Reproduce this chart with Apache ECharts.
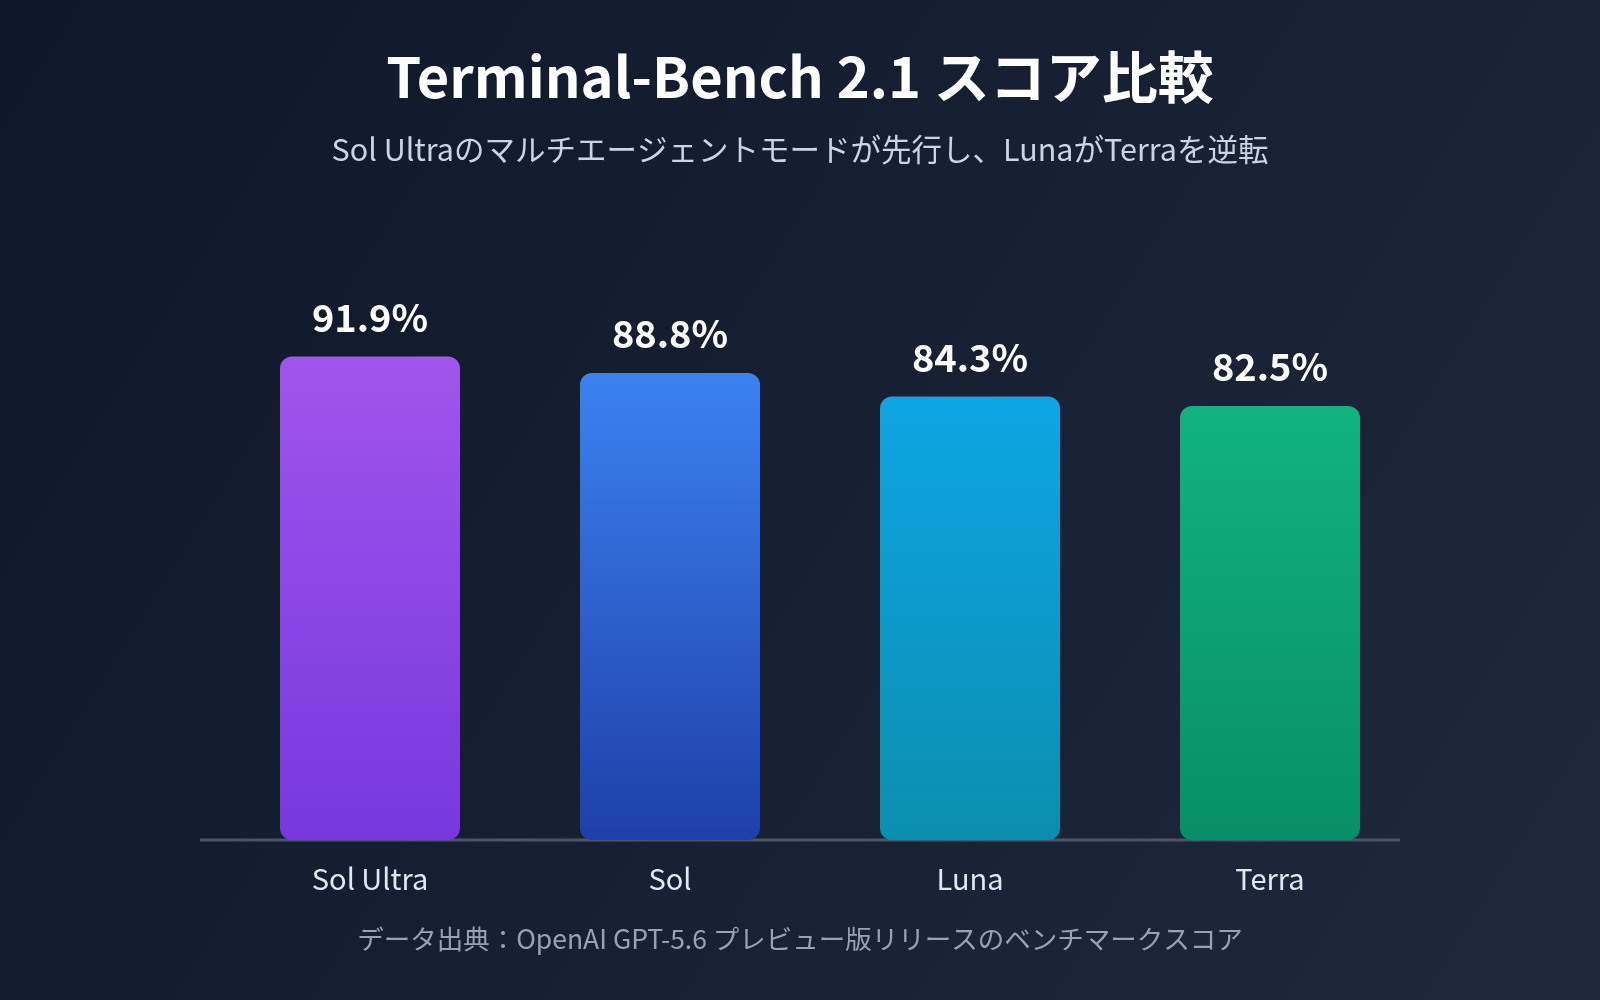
<!DOCTYPE html>
<html>
<head>
<meta charset="utf-8">
<script src="https://cdn.jsdelivr.net/npm/echarts@6/dist/echarts.min.js"></script>
<style>
html,body{margin:0;padding:0;width:1600px;height:1000px;overflow:hidden;background:#0f172a;}
#c{width:1600px;height:1000px;}
</style>
</head>
<body>
<div id="c"></div>
<script>
const titleText = 'Terminal-Bench 2.1 スコア比較';
const subtitleText = 'Sol Ultraのマルチエージェントモードが先行し、LunaがTerraを逆転';
const footerText = 'データ出典：OpenAI GPT-5.6 プレビュー版リリースのベンチマークスコア';
const categories = ['Sol Ultra', 'Sol', 'Luna', 'Terra'];
const scores = [91.9, 88.8, 84.3, 82.5];
const topColors = ['#a155ec', '#3b82f0', '#0ea5e4', '#11b37f'];
const bottomColors = ['#7638de', '#1e3fa8', '#0a8fae', '#078f65'];

const FONT = "'Noto Sans CJK JP', 'Noto Sans', sans-serif";
const chart = echarts.init(document.getElementById('c'), null, {renderer: 'canvas'});

const data = scores.map((v, i) => ({
  value: v,
  itemStyle: {
    color: new echarts.graphic.LinearGradient(0, 0, 0, 1, [
      {offset: 0, color: topColors[i]},
      {offset: 1, color: bottomColors[i]}
    ]),
    borderRadius: 12
  }
}));

chart.setOption({
  backgroundColor: new echarts.graphic.LinearGradient(0, 0, 1, 1, [
    {offset: 0, color: '#0f172a'},
    {offset: 1, color: '#1e293b'}
  ]),
  animation: false,
  title: [
    {
      text: titleText, left: 'center', top: 44,
      textStyle: {color: '#ffffff', fontSize: 56, fontWeight: 'bold', fontFamily: FONT}
    },
    {
      text: subtitleText, left: 'center', top: 129,
      textStyle: {color: '#cbd5e1', fontSize: 30.5, fontWeight: 'normal', fontFamily: FONT}
    },
    {
      text: footerText, left: 'center', top: 921,
      textStyle: {color: '#94a3b8', fontSize: 26.5, fontWeight: 'normal', fontFamily: FONT}
    }
  ],
  grid: {left: 220, width: 1200, top: 314, height: 526, containLabel: false},
  xAxis: {
    type: 'category',
    data: categories,
    axisLine: {show: false},
    axisTick: {show: false},
    axisLabel: {color: '#e2e8f0', fontSize: 29, margin: 24, fontFamily: FONT}
  },
  yAxis: {
    type: 'value', min: 0, max: 100,
    show: false,
    splitLine: {show: false}
  },
  graphic: [{
    type: 'line',
    shape: {x1: 200, y1: 840, x2: 1400, y2: 840},
    style: {stroke: '#4b5563', lineWidth: 3},
    z: 1
  }],
  series: [{
    type: 'bar',
    data: data,
    barWidth: 180,
    z: 2,
    label: {
      show: true, position: 'top', distance: 20,
      formatter: p => p.value.toFixed(1) + '%',
      color: '#ffffff', fontSize: 38, fontWeight: 'bold', fontFamily: FONT
    }
  }]
});
</script>
</body>
</html>
